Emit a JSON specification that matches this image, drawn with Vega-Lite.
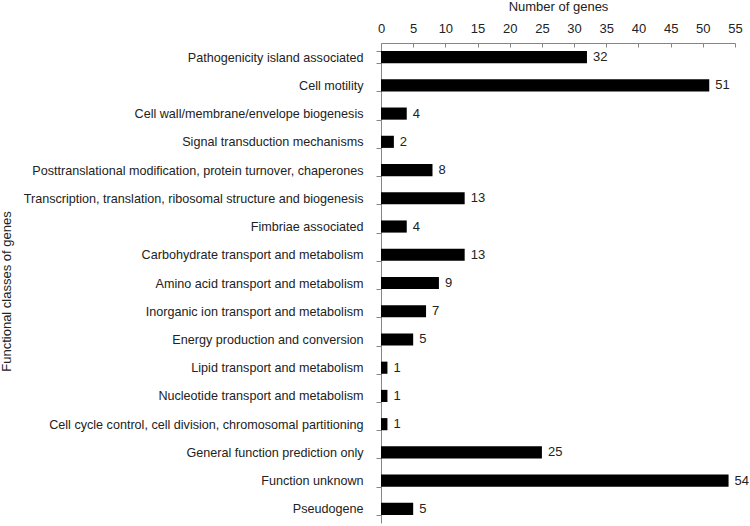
{
  "$schema": "https://vega.github.io/schema/vega-lite/v6.json",
  "autosize": {"type": "none"},
  "padding": {"left": 381, "top": 43, "right": 15, "bottom": 3},
  "width": 354,
  "height": 480,
  "background": "white",
  "config": {
    "view": {"stroke": null},
    "font": "Liberation Sans",
    "axis": {"domainColor": "#868686", "tickColor": "#868686", "labelColor": "#222", "titleColor": "#222", "labelFont": "Liberation Sans", "titleFont": "Liberation Sans", "labelFontSize": 12.6, "titleFontSize": 13, "titleFontWeight": "normal", "grid": false}
  },
  "data": {"values": [
    {"c": "Pathogenicity island associated", "n": 32},
    {"c": "Cell motility", "n": 51},
    {"c": "Cell wall/membrane/envelope biogenesis", "n": 4},
    {"c": "Signal transduction mechanisms", "n": 2},
    {"c": "Posttranslational modification, protein turnover, chaperones", "n": 8},
    {"c": "Transcription, translation, ribosomal structure and biogenesis", "n": 13},
    {"c": "Fimbriae associated", "n": 4},
    {"c": "Carbohydrate transport and metabolism", "n": 13},
    {"c": "Amino acid transport and metabolism", "n": 9},
    {"c": "Inorganic ion transport and metabolism", "n": 7},
    {"c": "Energy production and conversion", "n": 5},
    {"c": "Lipid transport and metabolism", "n": 1},
    {"c": "Nucleotide transport and metabolism", "n": 1},
    {"c": "Cell cycle control, cell division, chromosomal partitioning", "n": 1},
    {"c": "General function prediction only", "n": 25},
    {"c": "Function unknown", "n": 54},
    {"c": "Pseudogene", "n": 5}
  ]},
  "encoding": {
    "y": {"field": "c", "type": "nominal", "sort": null, "scale": {"paddingInner": 0.57, "paddingOuter": 0.285},
      "axis": {"title": "Functional classes of genes", "tickBand": "extent", "tickSize": 5, "labelPadding": 13, "titleX": -368, "titleY": 248, "titleAlign": "center", "titleBaseline": "bottom", "labelLimit": 400}},
    "x": {"field": "n", "type": "quantitative", "scale": {"domain": [0, 55], "nice": false},
      "axis": {"orient": "top", "title": "Number of genes", "values": [0,5,10,15,20,25,30,35,40,45,50,55], "tickSize": -4, "labelFontSize": 13, "labelPadding": 12, "titleY": -33, "titleBaseline": "alphabetic", "labelFlush": false}}
  },
  "layer": [
    {"mark": {"type": "bar", "color": "black"}},
    {"mark": {"type": "text", "align": "left", "dx": 6, "fontSize": 13, "color": "#222"}, "encoding": {"text": {"field": "n", "type": "quantitative"}}}
  ]
}
